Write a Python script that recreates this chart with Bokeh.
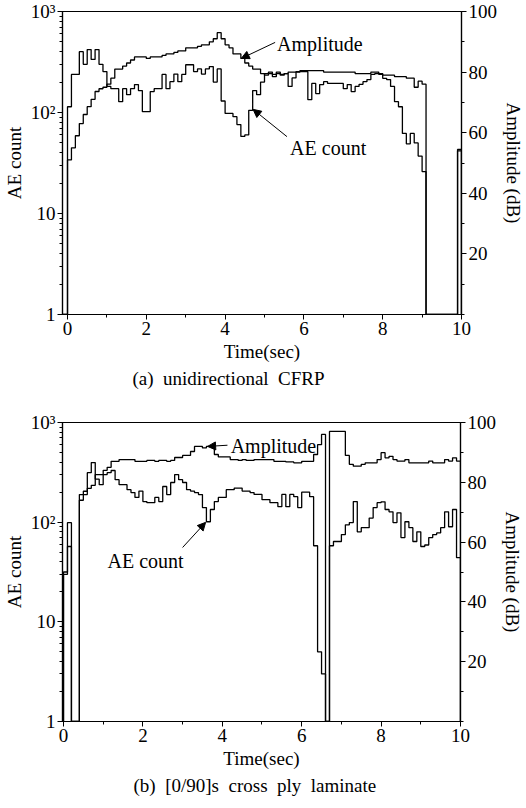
import numpy as np
from bokeh.plotting import figure
from bokeh.models import (Range1d, LinearAxis, LinearScale, FixedTicker, LogTicker,
                          CustomJSTickFormatter, Arrow, NormalHead, Label, Title)
from bokeh.layouts import column
from bokeh.embed import file_html
from bokeh.resources import INLINE

FONT = "Liberation Serif"
BIN_WIDTH = 0.1
X_TICKS = [0, 2, 4, 6, 8, 10]
X_MINOR = [1, 3, 5, 7, 9]
AMP_TICKS = [20, 40, 60, 80, 100]
AMP_MINOR = [0, 10, 30, 50, 70, 90]
COUNT_LABELS = {1: "1", 10: "10", 100: "10\u00b2", 1000: "10\u00b3"}

# (a) unidirectional CFRP, 0.1 s bins from 0.0 to 10.0 s
A_COUNT = [114, 238, 238, 400, 300, 420, 335, 420, 300, 254,
           181, 172, 172, 128, 172, 150, 172, 189, 165, 102,
           102, 161, 172, 172, 238, 172, 202, 240, 202, 238,
           297, 297, 254, 270, 240, 270, 285, 200, 270, 130,
           98, 98, 91, 76, 58, 60, 105, 165, 150, 200,
           243, 243, 238, 243, 238, 243, 181, 220, 254, 254,
           254, 134, 194, 154, 189, 202, 194, 194, 194, 194,
           172, 189, 161, 181, 190, 202, 212, 238, 243, 238,
           218, 212, 181, 128, 114, 62, 49, 62, 50, 37,
           26, 1, 1, 1, 1, 1, 1, 1, 1, 43]
A_AMP = [51, 55, 59, 63, 66, 68.6, 71, 73.6, 74.5, 75,
         76, 78, 81, 81, 82, 83, 84, 85, 85, 85,
         84.5, 85, 85, 85, 85.5, 86, 86, 86.5, 87, 87,
         88, 88, 88, 88.5, 89, 89, 90, 91, 93, 91,
         89, 88, 86, 86, 84.5, 83, 82, 81, 81, 79.5,
         79, 80, 78.5, 80, 79, 79.5, 80, 80, 80, 80.5,
         80.5, 80.5, 80.5, 80.5, 80.5, 80, 80, 80, 80, 80,
         80, 80, 80, 79.5, 79.5, 79.5, 79.5, 80, 80, 79.5,
         79, 79, 79, 78.5, 78.5, 78.5, 78, 78, 75, 77,
         76, 0, 0, 0, 0, 0, 0, 0, 0, 54]

# (b) [0/90]s cross ply laminate
B_COUNT = [30, 57, 1, 1, 189, 189, 314, 396, 270, 238,
           300, 314, 330, 267, 238, 238, 212, 198, 177, 205,
           161, 157, 157, 177, 161, 228, 189, 250, 300, 267,
           250, 212, 205, 198, 189, 140, 101, 134, 161, 177,
           177, 212, 212, 220, 220, 205, 205, 198, 190, 190,
           168, 168, 157, 157, 143, 190, 143, 190, 180, 140,
           200, 200, 180, 58, 5, 3, 1, 58, 64, 64,
           75, 94, 99, 161, 80, 88, 88, 110, 140, 157,
           160, 134, 127, 99, 124, 70, 101, 88, 64, 80,
           57, 59, 70, 75, 78, 88, 127, 90, 134, 44]
B_AMP = [50, 66.5, 0, 0, 74, 77, 78, 79, 82.6, 82.6,
         84, 85, 87, 87, 87.6, 87.6, 87.6, 87.6, 87, 87,
         87, 87.3, 87.3, 87, 87.3, 87.3, 87, 87.3, 88.3, 88.3,
         89, 89, 90.3, 92, 92, 91.5, 92, 92, 89.3, 88.5,
         88.5, 88.5, 87.6, 87.6, 87.3, 87.6, 87.3, 87.3, 87.6, 87.6,
         87.6, 87.6, 87.6, 87, 87, 87, 86.8, 86.8, 86.5, 86.5,
         87, 87, 87, 89.3, 92.6, 96, 0, 97, 97, 97,
         97, 89, 86, 85.4, 85.4, 86, 86.5, 86.5, 86.5, 87.6,
         89.9, 88.2, 88.7, 87.6, 87.1, 87.1, 87.6, 86.5, 86.5, 86.5,
         86.5, 86.5, 87.1, 86.5, 86.5, 86.5, 87.6, 87.1, 88.2, 87.1]


def step_xy(values, x_start, base):
    edges = np.arange(len(values) + 1) * BIN_WIDTH
    x = np.concatenate([[x_start], edges])
    y = np.concatenate([[base], np.asarray(values, float), [base]])
    return x, y


def style_axis(ax):
    ax.axis_line_color = "black"
    ax.axis_line_width = 1.2
    ax.major_tick_line_color = "black"
    ax.minor_tick_line_color = "black"
    ax.major_tick_in = 0
    ax.major_tick_out = 5
    ax.minor_tick_in = 0
    ax.minor_tick_out = 3
    ax.major_label_text_font = FONT
    ax.major_label_text_font_size = "19px"
    ax.major_label_text_color = "black"
    ax.major_label_standoff = 2
    ax.axis_label_text_font = FONT
    ax.axis_label_text_font_size = "19px"
    ax.axis_label_text_font_style = "normal"
    ax.axis_label_text_color = "black"
    ax.axis_label_standoff = 3


def make_panel(count, amp, x_start, caption, fw, fh, borders, notes, cap_offset):
    bl, br, bt, bb = borders
    p = figure(frame_width=fw, frame_height=fh, y_axis_type="log",
               x_range=Range1d(x_start, 10), y_range=Range1d(1, 1000),
               output_backend="svg", toolbar_location=None,
               min_border_left=bl, min_border_right=br,
               min_border_top=bt, min_border_bottom=bb)
    p.extra_y_ranges = {"amp": Range1d(0, 100)}
    p.extra_y_scales = {"amp": LinearScale()}
    p.xgrid.visible = False
    p.ygrid.visible = False
    p.outline_line_color = "black"
    p.outline_line_width = 1.2
    p.background_fill_color = "white"
    p.border_fill_color = "white"

    p.xaxis.ticker = FixedTicker(ticks=X_TICKS, minor_ticks=X_MINOR)
    p.xaxis.axis_label = "Time(sec)"
    p.yaxis.ticker = LogTicker(mantissas=[1], num_minor_ticks=10)
    p.yaxis.formatter = CustomJSTickFormatter(
        args=dict(m={str(k): v for k, v in COUNT_LABELS.items()}),
        code="const k = String(Math.round(tick)); return (k in m) ? m[k] : '';")
    p.yaxis.axis_label = "AE count"

    right = LinearAxis(y_range_name="amp",
                       ticker=FixedTicker(ticks=AMP_TICKS, minor_ticks=AMP_MINOR),
                       axis_label="Amplitude (dB)")
    p.add_layout(right, "right")
    for ax in [p.xaxis[0], p.yaxis[0], right]:
        style_axis(ax)

    cx, cy = step_xy(count, x_start, 1)
    ax_, ay = step_xy(amp, x_start, 0)
    p.step(cx, cy, mode="after", line_color="black", line_width=1.3)
    p.step(ax_, ay, mode="after", line_color="black", line_width=1.3,
           y_range_name="amp")

    for (text, tx, ty, x0, y0, x1, y1) in notes:
        p.add_layout(Label(x=tx, y=ty, y_range_name="amp", text=text,
                           text_font=FONT, text_font_size="20px",
                           text_color="black", text_baseline="alphabetic"))
        p.add_layout(Arrow(end=NormalHead(size=8, fill_color="black",
                                          line_color="black"),
                           x_start=x0, y_start=y0, x_end=x1, y_end=y1,
                           y_range_name="amp", line_color="black",
                           line_width=1))

    p.add_layout(Title(text=caption, text_font=FONT, text_font_size="19px",
                       text_font_style="normal", text_color="black",
                       align="left", offset=cap_offset, standoff=2), "below")
    return p


top = make_panel(
    A_COUNT, A_AMP, -0.127, "(a)\u00a0 unidirectional\u00a0 CFRP",
    399, 303, (55, 64, 11, 73),
    [("Amplitude", 5.32, 89.4, 5.27, 89.8, 4.41, 84.5),
     ("AE count", 5.65, 54.8, 5.57, 58.7, 4.71, 67.7)],
    70)

bottom = make_panel(
    B_COUNT, B_AMP, -0.025, "(b)\u00a0 [0/90]s\u00a0 cross\u00a0 ply\u00a0 laminate",
    398, 299, (54, 66, 33, 77),
    [("Amplitude", 4.21, 92.0, 4.13, 92.4, 3.63, 92.0),
     ("AE count", 1.11, 53.8, 3.0, 58.2, 3.58, 66.6)],
    71)

layout = column(top, bottom, spacing=0)
open("out.html", "w").write(file_html(layout, INLINE))
